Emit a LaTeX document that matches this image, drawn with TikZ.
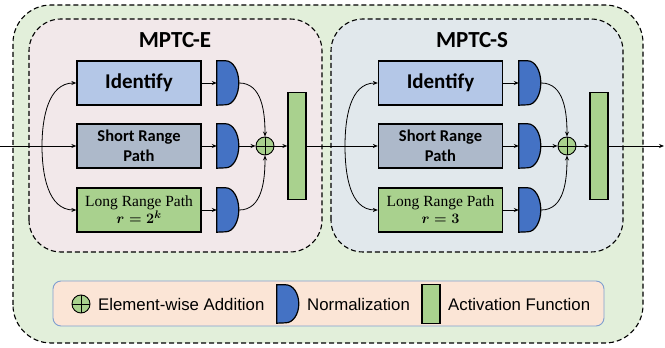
\documentclass[tikz,border=0pt]{standalone}
\usepackage{fontspec}
\usepackage{amsmath}
\usetikzlibrary{arrows.meta}
\newfontfamily\carlito{Carlito}
\newfontfamily\libsans{Liberation Sans}
\newfontfamily\libserif{Liberation Serif}
\definecolor{outerg}{HTML}{E2EFDA}
\definecolor{efill}{HTML}{F2E8EA}
\definecolor{sfill}{HTML}{E1E8EC}
\definecolor{idfill}{HTML}{B4C7E7}
\definecolor{srfill}{HTML}{ADB9CA}
\definecolor{grn}{HTML}{A9D18E}
\definecolor{normblue}{HTML}{4472C4}
\definecolor{legfill}{HTML}{FBE5D6}
\definecolor{legborder}{HTML}{7F9FD0}
\newcommand\drawnorm[2]{\draw[line width=1.2pt, fill=normblue] (#1.north west) -- ++(9,0) arc[start angle=90,end angle=-90,x radius=13,y radius=#2] -- (#1.south west) -- cycle;}
\newcommand\drawplus[1]{\draw[line width=0.9pt] (#1.north) -- (#1.south) (#1.west) -- (#1.east);}
\begin{document}
\begin{tikzpicture}[x=1pt,y=1pt,
  blk/.style={draw=black, line width=1.3pt, minimum width=124pt, minimum height=44pt, inner sep=0pt, align=center},
  idbox/.style={blk, fill=idfill, font=\carlito\bfseries\fontsize{21}{23}\selectfont},
  srbox/.style={blk, fill=srfill, font=\carlito\bfseries\fontsize{16.5}{20}\selectfont},
  lrbox/.style={blk, fill=grn, font=\libserif\fontsize{15.5}{18}\selectfont},
  normnode/.style={minimum width=22pt, minimum height=44pt, inner sep=0pt, draw=none},
  plusnode/.style={circle, draw=black, line width=0.9pt, fill=grn, minimum size=18pt, inner sep=0pt},
  actnode/.style={draw=black, line width=1.3pt, fill=grn, minimum width=18pt, minimum height=107pt, inner sep=0pt},
  conn/.style={line width=0.8pt, -{Stealth[length=5pt,width=4pt]}},
  dashbox/.style={draw=black, line width=1.1pt, dash pattern=on 5pt off 3pt},
  title/.style={font=\carlito\bfseries\fontsize{23}{26}\selectfont},
  legtext/.style={font=\libsans\fontsize{16.8}{19}\selectfont, anchor=west, inner sep=0pt}
]
\useasboundingbox (0,0) rectangle (665,348);
% outer
\path[dashbox, fill=outerg, rounded corners=38pt] (13,5) rectangle (643,343);
% inner boxes
\path[dashbox, fill=efill, rounded corners=32pt] (29,96) rectangle (322,329);
\path[dashbox, fill=sfill, rounded corners=32pt] (331,96) rectangle (623,329);
\node[title] (te) at (175,308) {MPTC-E};
\node[title] (ts) at (472,308) {MPTC-S};

% ---- E block
\node[idbox] (id1) at (139,265) {Identify};
\node[srbox] (sr1) at (139,202) {Short Range\\Path};
\node[lrbox] (lr1) at (139,138) {Long Range Path\\[-1pt]$\boldsymbol{r=2^k}$};
\node[normnode] (n1a) at (228,265) {};
\node[normnode] (n1b) at (228,202) {};
\node[normnode] (n1c) at (228,138) {};
\drawnorm{n1a}{22}\drawnorm{n1b}{22}\drawnorm{n1c}{22}
\node[plusnode] (c1) at (265,202) {};
\drawplus{c1}
\node[actnode] (a1) at (297,202) {};

% ---- S block
\node[idbox] (id2) at (440.5,265) {Identify};
\node[srbox] (sr2) at (440.5,202) {Short Range\\Path};
\node[lrbox] (lr2) at (440.5,138) {Long Range Path\\[-1pt]$\boldsymbol{r=3}$};
\node[normnode] (n2a) at (530,265) {};
\node[normnode] (n2b) at (530,202) {};
\node[normnode] (n2c) at (530,138) {};
\drawnorm{n2a}{22}\drawnorm{n2b}{22}\drawnorm{n2c}{22}
\node[plusnode] (c2) at (567,202) {};
\drawplus{c2}
\node[actnode] (a2) at (599,202) {};

% ---- connectors E
\coordinate (in) at (0,202);
\coordinate (sp1) at (42,202);
\draw[conn] (in) -- (sr1.west);
\draw[conn] (sp1) to[out=90,in=180] (id1.west);
\draw[conn] (sp1) to[out=-90,in=180] (lr1.west);
\draw[conn] (id1.east) -- (n1a.west);
\draw[conn] (sr1.east) -- (n1b.west);
\draw[conn] (lr1.east) -- (n1c.west);
\draw[conn] (n1a.east) to[out=0,in=90] (c1.north);
\draw[conn] (n1c.east) to[out=0,in=-90] (c1.south);
\draw[conn] (n1b.east) -- (c1.west);
\draw[conn] (c1.east) -- (a1.west);

% ---- connectors S
\coordinate (sp2) at (345,202);
\draw[conn] (a1.east) -- (sr2.west);
\draw[conn] (sp2) to[out=90,in=180] (id2.west);
\draw[conn] (sp2) to[out=-90,in=180] (lr2.west);
\draw[conn] (id2.east) -- (n2a.west);
\draw[conn] (sr2.east) -- (n2b.west);
\draw[conn] (lr2.east) -- (n2c.west);
\draw[conn] (n2a.east) to[out=0,in=90] (c2.north);
\draw[conn] (n2c.east) to[out=0,in=-90] (c2.south);
\draw[conn] (n2b.east) -- (c2.west);
\draw[conn] (c2.east) -- (a2.west);
\coordinate (out) at (664,202);
\draw[conn] (a2.east) -- (out);

% ---- legend
\path[draw=legborder, line width=0.9pt, fill=legfill, rounded corners=8pt] (53,22) rectangle (604,67);
\node[plusnode] (lc) at (81,44) {};
\drawplus{lc}
\node[legtext] (l1) at (98,44) {Element-wise Addition};
\node[normnode, minimum height=38pt] (ln) at (288,44) {};
\drawnorm{ln}{19}
\node[legtext] (l2) at (307,44) {Normalization};
\node[actnode, minimum height=39pt] (la) at (431,44) {};
\node[legtext] (l3) at (448,44) {Activation Function};
\end{tikzpicture}
\end{document}
